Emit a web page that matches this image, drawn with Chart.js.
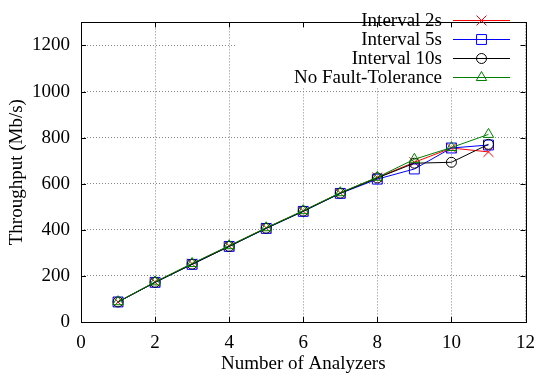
<!DOCTYPE html>
<html>
<head>
<meta charset="utf-8">
<script src="https://cdn.jsdelivr.net/npm/chart.js@4.4.1/dist/chart.umd.min.js"></script>
<style>
  html, body { margin: 0; padding: 0; background: #fff; }
  #wrap { width: 545px; height: 379px; }
</style>
</head>
<body>
<div id="wrap"><canvas id="myChart" width="545" height="379"></canvas></div>
<script>
// number of analyzers
var analyzers = [1, 2, 3, 4, 5, 6, 7, 8, 9, 10, 11];

// throughput (Mb/s)
var interval2s = [87, 173, 253, 330, 408, 482, 560, 627, 693, 755, 738];
var interval5s = [87, 172, 250, 328, 406, 480, 558, 620, 664, 755, 768];
var interval10s = [87, 172, 251, 328, 407, 481, 559, 625, 689, 693, 771];
var noFaultTolerance = [88, 174, 254, 331, 409, 483, 561, 628, 706, 757, 814];

var seriesNames = ["Interval 2s", "Interval 5s", "Interval 10s", "No Fault-Tolerance"];
var seriesColors = ["#ff0000", "#0000ff", "#000000", "#008000"];

var xTicks = [0, 2, 4, 6, 8, 10, 12];
var yTicks = [0, 200, 400, 600, 800, 1000, 1200];

var FONT = "'Liberation Serif', 'DejaVu Serif', serif";
var FSIZE = 19;

function toPoints(values) {
  var pts = [];
  for (var i = 0; i < analyzers.length; i++) {
    pts.push({ x: analyzers[i], y: values[i] });
  }
  return pts;
}

function makeSet(label, values, color, style, radius, order) {
  return {
    label: label,
    data: toPoints(values),
    borderColor: color,
    backgroundColor: "rgba(0,0,0,0)",
    borderWidth: 1,
    pointStyle: style,
    pointRadius: radius,
    pointBorderColor: color,
    pointBackgroundColor: "rgba(0,0,0,0)",
    pointBorderWidth: 1,
    order: order,
  };
}

// small marker painter for the legend (same shapes as chart.js point styles)
function marker(ctx, style, x, y, r) {
  ctx.beginPath();
  if (style === "crossRot") {
    var d = r * Math.SQRT1_2;
    ctx.moveTo(x - d, y - d); ctx.lineTo(x + d, y + d);
    ctx.moveTo(x - d, y + d); ctx.lineTo(x + d, y - d);
  } else if (style === "rect") {
    var s = r * Math.SQRT1_2;
    ctx.rect(x - s, y - s, 2 * s, 2 * s);
  } else if (style === "circle") {
    ctx.arc(x, y, r, 0, Math.PI * 2);
  } else if (style === "triangle") {
    ctx.moveTo(x, y - r);
    ctx.lineTo(x + r * Math.sin(Math.PI / 3), y + r * 0.5);
    ctx.lineTo(x - r * Math.sin(Math.PI / 3), y + r * 0.5);
    ctx.closePath();
  }
  ctx.stroke();
}

// gnuplot-like frame, inner ticks and key
var framePlugin = {
  id: "frame",
  beforeDatasetsDraw: function (chart) {
    // key area hides the grid
    var ctx = chart.ctx;
    ctx.save();
    ctx.fillStyle = "#fff";
    ctx.fillRect(237, 8, 284, 80);
    ctx.restore();
  },
  afterDraw: function (chart) {
    var ctx = chart.ctx;
    var a = chart.chartArea;
    var xs = chart.scales.x;
    var ys = chart.scales.y;
    ctx.save();
    ctx.strokeStyle = "#000";
    ctx.lineWidth = 1;
    ctx.setLineDash([]);
    ctx.strokeRect(Math.round(a.left) + 0.5, Math.round(a.top) + 0.5,
      Math.round(a.right - a.left), Math.round(a.bottom - a.top));

    var t = 5;
    ctx.beginPath();
    xTicks.forEach(function (v) {
      var px = Math.round(xs.getPixelForValue(v)) + 0.5;
      ctx.moveTo(px, a.bottom); ctx.lineTo(px, a.bottom - t);
      ctx.moveTo(px, a.top); ctx.lineTo(px, a.top + t);
    });
    yTicks.forEach(function (v) {
      var py = Math.round(ys.getPixelForValue(v)) + 0.5;
      ctx.moveTo(a.left, py); ctx.lineTo(a.left + t, py);
      ctx.moveTo(a.right, py); ctx.lineTo(a.right - t, py);
    });
    ctx.stroke();
    ctx.restore();

    // key: sample line and marker for each series
    var styles = ["crossRot", "rect", "circle", "triangle"];
    var radii = [7, 7, 5, 6];
    ctx.save();
    ctx.font = FSIZE + "px " + FONT;
    ctx.textAlign = "right";
    ctx.textBaseline = "middle";
    ctx.lineWidth = 1;
    for (var i = 0; i < seriesNames.length; i++) {
      var yy = 20.5 + i * 19;
      ctx.fillStyle = "#000";
      ctx.fillText(seriesNames[i], 442, yy + 1);
      ctx.strokeStyle = seriesColors[i];
      ctx.beginPath();
      ctx.moveTo(453, yy);
      ctx.lineTo(510, yy);
      ctx.stroke();
      marker(ctx, styles[i], 481.5, yy, radii[i]);
    }
    ctx.restore();
  },
};

var ctx = document.getElementById("myChart").getContext("2d");

var chart = new Chart(ctx, {
  type: "line",
  data: {
    datasets: [
      makeSet(seriesNames[0], interval2s, seriesColors[0], "crossRot", 7, 4),
      makeSet(seriesNames[1], interval5s, seriesColors[1], "rect", 7, 3),
      makeSet(seriesNames[2], interval10s, seriesColors[2], "circle", 5, 2),
      makeSet(seriesNames[3], noFaultTolerance, seriesColors[3], "triangle", 6, 1),
    ],
  },
  options: {
    responsive: false,
    animation: false,
    events: [],
    layout: { padding: { top: 6, right: 14, left: 0, bottom: 0 } },
    plugins: {
      legend: { display: false },
      tooltip: { enabled: false },
    },
    scales: {
      x: {
        type: "linear",
        min: 0,
        max: 12,
        afterBuildTicks: function (scale) {
          scale.ticks = xTicks.map(function (v) { return { value: v }; });
        },
        afterFit: function (scale) { scale.height = 57; },
        grid: { color: "#888", lineWidth: 1, drawTicks: false },
        border: { display: false, dash: [1, 2] },
        ticks: {
          color: "#000", padding: 10, maxRotation: 0,
          font: { family: FONT, size: FSIZE },
          callback: function (v) { return String(v); },
        },
        title: {
          display: true,
          text: "Number of Analyzers",
          color: "#000",
          font: { family: FONT, size: FSIZE },
          padding: { top: 0, bottom: 4 },
        },
      },
      y: {
        min: 0,
        max: 1300,
        afterBuildTicks: function (scale) {
          scale.ticks = yTicks.map(function (v) { return { value: v }; });
        },
        afterFit: function (scale) { scale.width = 81; },
        grid: { color: "#888", lineWidth: 1, drawTicks: false },
        border: { display: false, dash: [1, 2] },
        ticks: {
          color: "#000", padding: 11,
          font: { family: FONT, size: FSIZE },
          callback: function (v) { return String(v); },
        },
        title: {
          display: true,
          text: "Throughput (Mb/s)",
          color: "#000",
          font: { family: FONT, size: FSIZE },
          padding: { top: 6, bottom: 0 },
        },
      },
    },
  },
  plugins: [framePlugin],
});
</script>
</body>
</html>
